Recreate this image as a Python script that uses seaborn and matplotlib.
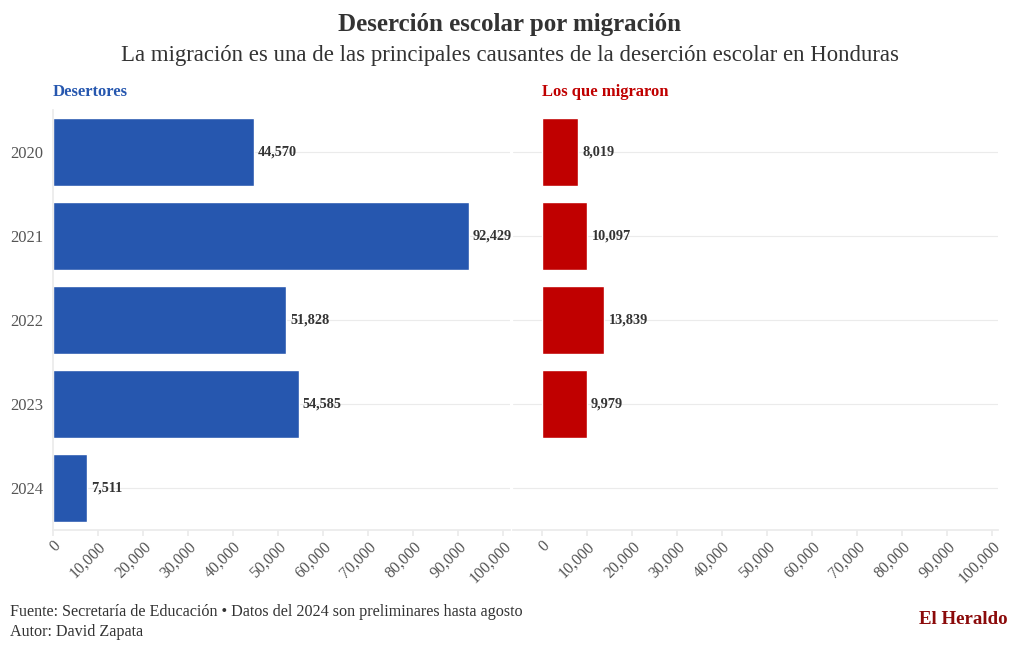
import seaborn as sns  # plotting
import matplotlib.pyplot as plt  # figure handling
import pandas as pd  # data handling

# data
years = ["2020", "2021", "2022", "2023", "2024"]
desertores = [44570, 92429, 51828, 54585, 7511]
migrados_years = ["2020", "2021", "2022", "2023"]
migrados = [8019, 10097, 13839, 9979]
x_ticks = [0, 10000, 20000, 30000, 40000, 50000, 60000, 70000, 80000, 90000, 100000]

BLUE = "#2657AF"
RED = "#C00000"
GRID = "#ebebeb"
TICK = "#555555"
TEXT = "#333333"

df_left = pd.DataFrame({"Year": years, "Value": desertores})
df_right = pd.DataFrame({"Year": migrados_years, "Value": migrados})

sns.set_theme(style="white")
plt.rcParams["font.family"] = ["Liberation Serif", "DejaVu Serif"]

fig = plt.figure(figsize=(10.2, 6.5), dpi=100)
ax1 = fig.add_axes([53 / 1020, 1 - 530 / 650, 457 / 1020, 420 / 650])
ax2 = fig.add_axes([513 / 1020, 1 - 530 / 650, 485 / 1020, 420 / 650])
ax2.patch.set_alpha(0)  # keep the left panel labels visible


def style_panel(ax, data, color, show_years):
    sns.barplot(data=data, x="Value", y="Year", order=years, color=color,
                saturation=1, width=0.8, ax=ax)
    for c in ax.containers:
        labels = ax.bar_label(c, labels=[f"{v:,.0f}" for v in c.datavalues], padding=3,
                              fontsize=10.3, fontweight="bold", color=TEXT)
        for t in labels:
            t.set_clip_on(False)
    ax.set_ylim(4.5, -0.5)
    ax.set_xticks(x_ticks)
    ax.set_xticklabels([f"{t:,}" for t in x_ticks], rotation=45, ha="right",
                       rotation_mode="anchor", fontsize=11.5, color=TICK)
    ax.set_xlabel("")
    ax.set_ylabel("")
    ax.set_axisbelow(True)
    ax.yaxis.grid(True, color=GRID, linewidth=0.8)
    ax.xaxis.grid(False)
    for side in ["top", "right"]:
        ax.spines[side].set_visible(False)
    ax.spines["bottom"].set_color(GRID)
    ax.tick_params(axis="x", length=4, color=GRID, bottom=True, pad=2)
    if show_years:
        ax.spines["left"].set_color(GRID)
        ax.tick_params(axis="y", length=0, labelsize=12, labelcolor=TICK, pad=7)
    else:
        ax.spines["left"].set_visible(False)
        ax.tick_params(axis="y", length=0, labelleft=False)


style_panel(ax1, df_left, BLUE, True)
ax1.set_xlim(0, 101556)

style_panel(ax2, df_right, RED, False)
ax2.set_xlim(-6444, 101333)

# panel titles
fig.text(53 / 1020, 1 - 92 / 650, "Desertores", ha="left", va="center",
         fontsize=12, fontweight="bold", color=BLUE)
fig.text(542 / 1020, 1 - 92 / 650, "Los que migraron", ha="left", va="center",
         fontsize=12, fontweight="bold", color=RED)

# titles
fig.text(0.5, 1 - 24 / 650, "Deserción escolar por migración", ha="center", va="center",
         fontsize=18, fontweight="bold", color=TEXT)
fig.text(0.5, 1 - 56 / 650,
         "La migración es una de las principales causantes de la deserción escolar en Honduras",
         ha="center", va="center", fontsize=16.4, color=TEXT)

# footer
fig.text(10 / 1020, 1 - 612 / 650,
         "Fuente: Secretaría de Educación • Datos del 2024 son preliminares hasta agosto",
         ha="left", va="center", fontsize=11.6, color=TEXT)
fig.text(10 / 1020, 1 - 632 / 650, "Autor: David Zapata", ha="left", va="center",
         fontsize=11.6, color=TEXT)
fig.text(1008 / 1020, 1 - 620 / 650, "El Heraldo", ha="right", va="center",
         fontsize=13.6, fontweight="bold", color="#8B0A0A")

fig.savefig("out.png", dpi=100)
